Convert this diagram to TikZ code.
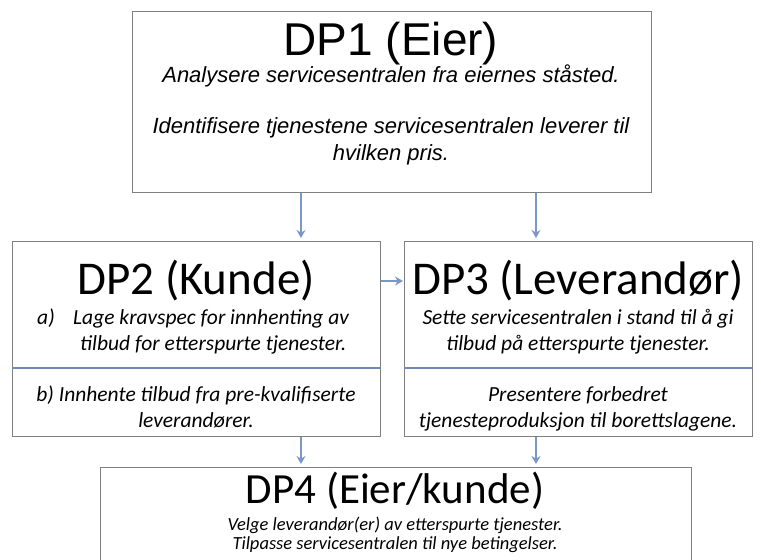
\documentclass[tikz,border=0pt]{standalone}
\usepackage{fontspec}
\usetikzlibrary{arrows.meta}
\newfontfamily\arialfont{Liberation Sans}
\newfontfamily\calfont{Carlito}
\definecolor{flowblue}{HTML}{7B96C9}
\definecolor{splitblue}{HTML}{7288B4}
\definecolor{edgegray}{HTML}{7F7F7F}

\tikzset{
  box/.style={draw=edgegray, line width=1.2pt, rectangle, anchor=north west, inner sep=0pt},
  bigtitle/.style={anchor=base, inner sep=0pt, font=\calfont\fontsize{47}{50}\selectfont},
  body/.style={anchor=base, inner sep=0pt, font=\calfont\itshape\fontsize{21.5}{24}\selectfont},
  split/.style={draw=splitblue, line width=1.8pt},
  flow/.style={draw=flowblue, line width=1.6pt, ->, shorten >=3pt}
}

\begin{document}
\begin{tikzpicture}[x=1pt, y=-1pt, >={Stealth[length=8pt,width=9pt]}]
    \useasboundingbox (0,0) rectangle (761,560);
    \clip (0,0) rectangle (761,560);

    % boxes
    \node[box, minimum width=519pt, minimum height=181pt] (dp1) at (132,11) {};
    \node[box, minimum width=368pt, minimum height=195pt] (dp2) at (12,241) {};
    \node[box, minimum width=348pt, minimum height=195pt] (dp3) at (404,241) {};
    \node[box, minimum width=591pt, minimum height=140pt] (dp4) at (100,467) {};

    % DP1
    \node[bigtitle, font=\arialfont\fontsize{46}{50}\selectfont] (t1) at (391,55) {DP1 (Eier)};
    \node[body, font=\arialfont\itshape\fontsize{22}{25}\selectfont] (d1a) at (391,82) {Analysere servicesentralen fra eiernes ståsted.};
    \node[body, font=\arialfont\itshape\fontsize{22}{25}\selectfont] (d1b) at (391,133) {Identifisere tjenestene servicesentralen leverer til};
    \node[body, font=\arialfont\itshape\fontsize{22}{25}\selectfont] (d1c) at (391,160) {hvilken pris.};

    % DP2
    \node[bigtitle] (t2) at (196,294) {DP2 (Kunde)};
    \node[body, anchor=base west] (ia) at (37,324) {a)};
    \node[body, anchor=base west] (d2a) at (73,324) {Lage kravspec for innhenting av};
    \node[body, anchor=base west] (d2b) at (80,350) {tilbud for etterspurte tjenester.};
    \node[body] (d2c) at (196,401) {b) Innhente tilbud fra pre-kvalifiserte};
    \node[body] (d2d) at (196,427) {leverandører.};

    % DP3
    \node[bigtitle] (t3) at (578,294) {DP3 (Leverandør)};
    \node[body] (d3a) at (578,324) {Sette servicesentralen i stand til å gi};
    \node[body] (d3b) at (578,350) {tilbud på etterspurte tjenester.};
    \node[body] (d3c) at (578,401) {Presentere forbedret};
    \node[body] (d3d) at (578,427) {tjenesteproduksjon til borettslagene.};

    % DP4
    \node[bigtitle, font=\calfont\fontsize{43}{46}\selectfont] (t4) at (395,503) {DP4 (Eier/kunde)};
    \node[body, font=\calfont\itshape\fontsize{18.5}{21}\selectfont] (d4a) at (395,530) {Velge leverandør(er) av etterspurte tjenester.};
    \node[body, font=\calfont\itshape\fontsize{18.5}{21}\selectfont] (d4b) at (395,549) {Tilpasse servicesentralen til nye betingelser.};

    % dividers
    \coordinate (cut) at (0,368);
    \draw[split] (dp2.west |- cut) -- (dp2.east |- cut);
    \draw[split] (dp3.west |- cut) -- (dp3.east |- cut);

    % arrows
    \coordinate (left) at (301,0);
    \coordinate (right) at (536,0);
    \draw[flow] (left |- dp1.south) -- (left |- dp2.north);
    \draw[flow] (right |- dp1.south) -- (right |- dp3.north);
    \draw[flow, shorten >=1pt] (dp2.east |- 0,281) -- (dp3.west |- 0,281);
    \draw[flow] (left |- dp2.south) -- (left |- dp4.north);
    \draw[flow] (right |- dp3.south) -- (right |- dp4.north);
\end{tikzpicture}
\end{document}
